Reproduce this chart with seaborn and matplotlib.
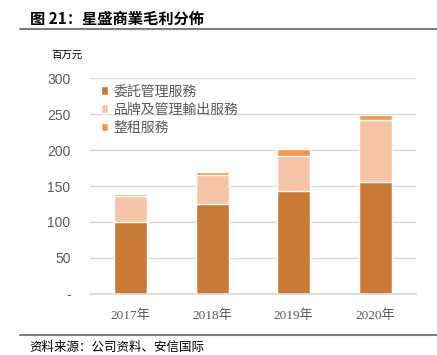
import numpy as np
import pandas as pd
import matplotlib
matplotlib.use('Agg')
from matplotlib import pyplot as plt
import seaborn as sns

# ---------- data (百万元) ----------
years = ['2017年', '2018年', '2019年', '2020年']
entrusted = [100, 125, 143, 155]       # 委託管理服務
brand_mgmt = [36.5, 40, 49, 87]        # 品牌及管理輸出服務
rental = [2.5, 5, 9, 7]                # 整租服務
yticks = [0, 50, 100, 150, 200, 250, 300]

df = pd.DataFrame({'year': years, 'main': entrusted,
                   'brand': brand_mgmt, 'rent': rental})
df['lvl2'] = df['main'] + df['brand']
df['lvl3'] = df['lvl2'] + df['rent']

c_main = '#C97A37'
c_brand = '#F8C4A8'
c_rent = '#F79646'
gray = '#595959'

sns.set_theme(style='white')
plt.rcParams['font.family'] = ['Liberation Sans', 'Noto Sans CJK SC', 'DejaVu Sans']

fig = plt.figure(figsize=(4.37, 3.55), dpi=100)
ax = fig.add_axes([0.206, 0.172, 0.746, 0.608])

# stacked bars drawn as overlapping cumulative bars
sns.barplot(data=df, x='year', y='lvl3', color=c_rent, width=0.4, ax=ax,
            label='整租服務', saturation=1)
sns.barplot(data=df, x='year', y='lvl2', color=c_brand, width=0.4, ax=ax,
            label='品牌及管理輸出服務', saturation=1)
sns.barplot(data=df, x='year', y='main', color=c_main, width=0.4, ax=ax,
            label='委託管理服務', saturation=1)

ax.set_xlim(-0.5, 3.5)
ax.set_ylim(0, 300)
ax.set_yticks(yticks)
ax.set_yticklabels(['-' if v == 0 else str(v) for v in yticks])
ax.set_xlabel('')
ax.set_ylabel('')
ax.yaxis.grid(True, color='#D9D9D9', linewidth=1)
ax.set_axisbelow(True)
for s in ['top', 'right', 'left']:
    ax.spines[s].set_visible(False)
ax.spines['bottom'].set_color('#D9D9D9')
ax.tick_params(axis='y', labelsize=10, colors=gray, length=0, pad=14)
ax.tick_params(axis='x', length=0, pad=11)
for t in ax.get_xticklabels():
    t.set_family(['Liberation Serif', 'Noto Sans CJK SC'])
    t.set_fontsize(9.5)
    t.set_color(gray)

handles, labels = ax.get_legend_handles_labels()
leg = ax.legend(handles[::-1], labels[::-1], loc='upper left',
                bbox_to_anchor=(0.02, 0.99), frameon=False,
                borderaxespad=0, borderpad=0.3,
                prop={'family': ['Noto Sans CJK SC'], 'size': 10},
                handlelength=0.55, handleheight=0.55, handletextpad=0.4,
                labelspacing=0.3)
for t in leg.get_texts():
    t.set_color(gray)

# header / footer
fig.text(0.068, 0.947, '图 21：星盛商業毛利分佈', fontsize=11, fontweight='bold',
         family=['Noto Sans CJK SC'], color='black', va='center')
fig.add_artist(plt.Line2D([0.046, 1.0], [0.918, 0.918], color='#7F7F7F', linewidth=1.5))
fig.text(0.118, 0.845, '百万元', fontsize=7.5, family=['Noto Sans CJK SC'],
         color='black', va='center')
fig.add_artist(plt.Line2D([0.046, 1.0], [0.055, 0.055], color='#7F7F7F', linewidth=1.5))
fig.text(0.068, 0.022, '资料来源：公司资料、安信国际', fontsize=9, style='italic',
         family=['Noto Sans CJK SC'], color='black', va='center')

fig.savefig('out.png', dpi=100)
